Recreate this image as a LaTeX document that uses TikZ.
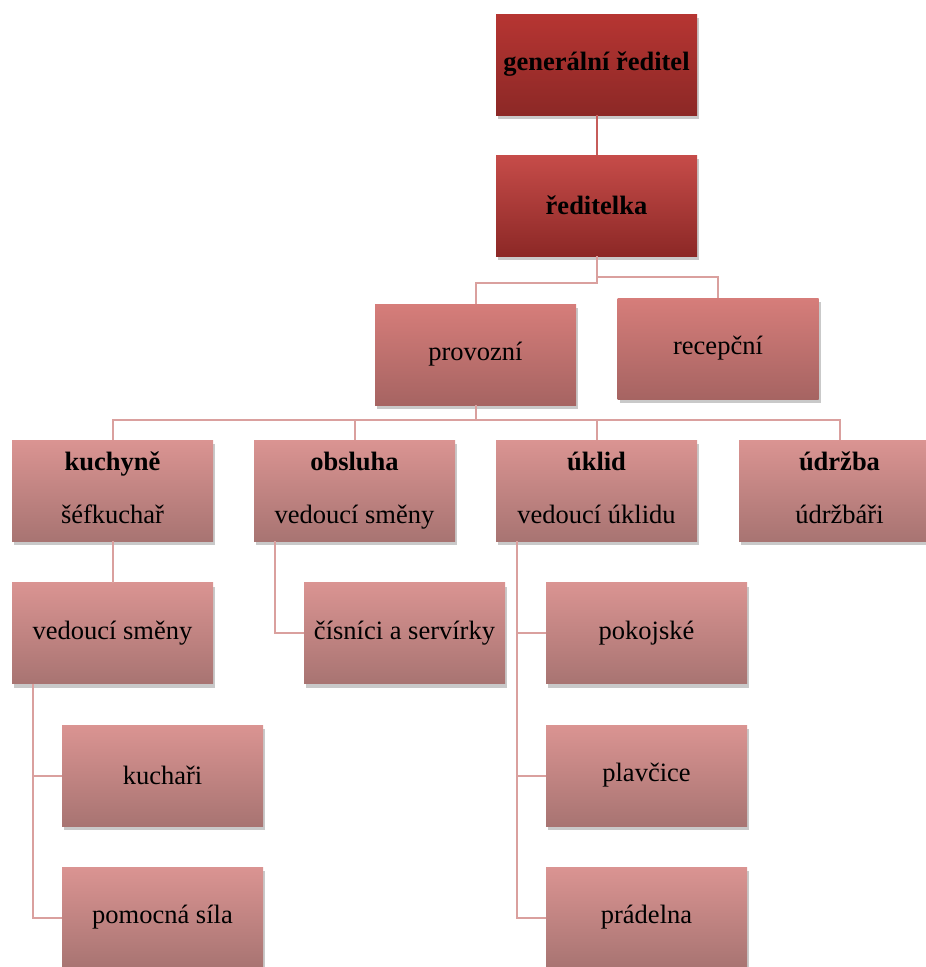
\documentclass[tikz,border=0pt]{standalone}
\usepackage{fontspec}
\setmainfont{Liberation Serif}
\usepackage{tikz}
\usetikzlibrary{shadows, calc}
\definecolor{leadtop}{RGB}{192, 56, 53}
\definecolor{leadbot}{RGB}{140, 40, 38}
\definecolor{depttop}{RGB}{214, 125, 122}
\definecolor{deptbot}{RGB}{166, 100, 98}
\definecolor{teamtop}{RGB}{218, 148, 146}
\definecolor{teambot}{RGB}{168, 116, 114}
\definecolor{linkdark}{RGB}{198, 92, 90}
\definecolor{linklight}{RGB}{218, 160, 158}

\begin{document}
\begin{tikzpicture}[
  x=1pt, y=-1pt,
  box/.style={minimum width=201pt, minimum height=101pt, inner sep=0pt, outer sep=0pt, align=center,
    font=\fontsize{26.5}{32}\selectfont,
    drop shadow={shadow xshift=2pt, shadow yshift=-4pt, opacity=0.3, fill=black!70}},
  lead/.style={box, top color=leadtop, bottom color=leadbot, font=\fontsize{26.5}{32}\selectfont\bfseries},
  dept/.style={box, top color=depttop, bottom color=deptbot},
  team/.style={box, top color=teamtop, bottom color=teambot},
  link/.style={draw=linklight, line width=2pt},
  toplink/.style={draw=linkdark, line width=2pt}
]
  \useasboundingbox (0, 0) rectangle (926, 967);

  \node[lead, top color=leadtop!95!black] (gen) at (596.5, 64.5) {generální ředitel};
  \node[lead, top color=leadtop!90!white] (red) at (596.5, 205.5) {ředitelka};

  \node[dept] (prov) at (475.5, 354.5) {provozní};
  \node[dept] (rec) at (718, 348.5) {recepční};

  \node[team] (kuch) at (112.5, 490.5) {\strut\textbf{kuchyně}\\[21pt]\strut šéfkuchař};
  \node[team] (obs) at (354.5, 490.5) {\strut\textbf{obsluha}\\[21pt]\strut vedoucí směny};
  \node[team] (ukl) at (596.5, 490.5) {\strut\textbf{úklid}\\[21pt]\strut vedoucí úklidu};
  \node[team] (udr) at (839.5, 490.5) {\strut\textbf{údržba}\\[21pt]\strut údržbáři};

  \node[team] (ksm) at (112.5, 633) {vedoucí směny};
  \node[team] (kuchari) at (162.5, 775.5) {kuchaři};
  \node[team] (pom) at (162.5, 917.5) {pomocná síla};

  \node[team] (cis) at (404.5, 633) {čísníci a servírky};

  \node[team] (pok) at (646.5, 633) {pokojské};
  \node[team] (plav) at (646.5, 775.5) {plavčice};
  \node[team] (prad) at (646.5, 917.5) {prádelna};

  % connectors
  \draw[toplink] (gen) -- (red);
  \draw[link] (red.south) -- ++(0, 27) -| (prov.north);
  \draw[link] (red.south) -- ++(0, 21) -| (rec.north);
  \foreach \n in {kuch, obs, ukl, udr}
    \draw[link] (prov.south) -- ++(0, 15) -| (\n.north);
  \draw[link] (kuch) -- (ksm);
  \draw[link] ($(ksm.south west)+(21, 0)$) |- (kuchari.west);
  \draw[link] ($(ksm.south west)+(21, 0)$) |- (pom.west);
  \draw[link] ($(obs.south west)+(21, 0)$) |- (cis.west);
  \foreach \n in {pok, plav, prad}
    \draw[link] ($(ukl.south west)+(21, 0)$) |- (\n.west);
\end{tikzpicture}
\end{document}
